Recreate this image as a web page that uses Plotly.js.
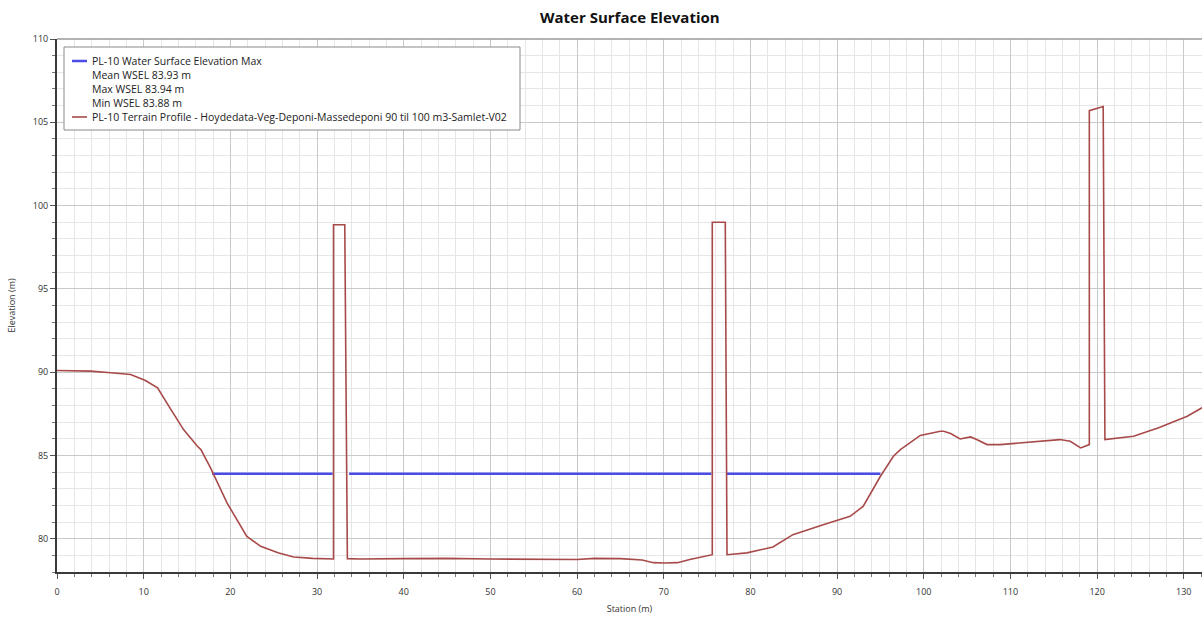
<!DOCTYPE html>
<html>
<head>
<meta charset="utf-8">
<script src="https://cdn.plot.ly/plotly-3.0.1.min.js"></script>
<style>
html,body{margin:0;padding:0;background:#fff;}
#chart{width:1202px;height:622px;}
</style>
</head>
<body>
<div id="chart"></div>
<script>
// Terrain profile (station m, elevation m)
const terrainStation = [0, 3.9, 6.2, 8.5, 10.2, 11.6, 12.9, 14.6, 16.2, 16.6, 17.7, 19.6, 21.9, 23.5, 25.5, 27.3, 29.5, 31.5, 31.9,
  31.9, 33.2, 33.5,
  35, 40, 45, 50, 55, 60, 62, 65, 67.5, 68.8, 70, 71.6, 73, 75.4, 75.6,
  75.6, 77.1, 77.3,
  79.6, 82.6, 84.9, 88.4, 91.5, 93.0, 95.0, 96.5, 97.3, 99.6, 100.0, 101.9, 102.3, 103.1, 104.2, 105.4, 106.1, 107.3, 108.8, 112, 115.7, 116.9, 118.1, 119.1,
  119.1, 120.7, 120.9,
  124.2, 127.1, 130.4, 132.1];
const terrainElev = [90.1, 90.06, 89.96, 89.86, 89.5, 89.06, 87.96, 86.55, 85.55, 85.35, 84.27, 82.16, 80.14, 79.54, 79.15, 78.9, 78.82, 78.78, 78.78,
  98.85, 98.85, 78.8,
  78.78, 78.8, 78.82, 78.78, 78.76, 78.75, 78.82, 78.8, 78.72, 78.56, 78.54, 78.56, 78.75, 79.0, 79.04,
  99.0, 99.0, 79.04,
  79.15, 79.5, 80.24, 80.84, 81.34, 81.94, 83.75, 84.95, 85.35, 86.2, 86.25, 86.45, 86.45, 86.31, 85.99, 86.11, 85.95, 85.65, 85.65, 85.8, 85.95, 85.85, 85.45, 85.65,
  105.7, 105.95, 85.95,
  86.15, 86.66, 87.35, 87.86];

// Water surface elevation max (breaks at the piers)
const wselStation = [17.9, 31.8, null, 33.7, 75.5, null, 77.3, 95.0];
const wselElev = [83.9, 83.9, null, 83.9, 83.9, null, 83.9, 83.9];

const legendWsel = "PL-10 Water Surface Elevation Max";
const legendStats = ["Mean WSEL 83.93 m", "Max WSEL 83.94 m", "Min WSEL 83.88 m"];
const legendTerrain = "PL-10 Terrain Profile - Hoydedata-Veg-Deponi-Massedeponi 90 til 100 m3-Samlet-V02";

const wselColor = '#4b4be6';
const terrainColor = '#a84a4a';

const traces = [
  {x: wselStation, y: wselElev, mode: 'lines', name: legendWsel,
   line: {color: wselColor, width: 2.5}, connectgaps: false, showlegend: false},
  {x: terrainStation, y: terrainElev, mode: 'lines', name: legendTerrain,
   line: {color: terrainColor, width: 1.6}, showlegend: false}
];

// page geometry
const W = 1202, H = 622, M = {l: 57, r: 0, t: 39, b: 50};
const plotW = W - M.l - M.r, plotH = H - M.t - M.b;
const px = v => (v - M.l) / plotW;
const py = v => (H - M.b - v) / plotH;

const FONT = 'Open Sans, DejaVu Sans, sans-serif';

// custom legend (box, line samples and texts)
const legendRows = [legendWsel].concat(legendStats, [legendTerrain]);
const rowY = [61, 75, 89, 103, 117];
const shapes = [
  {type: 'rect', xref: 'paper', yref: 'paper', x0: px(64), x1: px(520), y0: py(130), y1: py(47),
   line: {color: '#8a8a8a', width: 1}, fillcolor: '#ffffff', layer: 'above'},
  {type: 'line', xref: 'paper', yref: 'paper', x0: px(72), x1: px(87), y0: py(rowY[0]), y1: py(rowY[0]),
   line: {color: wselColor, width: 2.5}, layer: 'above'},
  {type: 'line', xref: 'paper', yref: 'paper', x0: px(72), x1: px(87), y0: py(rowY[4]), y1: py(rowY[4]),
   line: {color: terrainColor, width: 1.6}, layer: 'above'},
  {type: 'line', xref: 'paper', yref: 'paper', x0: 0, x1: 1, y0: 1, y1: 1,
   line: {color: '#9a9a9a', width: 1.5}, layer: 'above'}
];
const annotations = legendRows.map((t, i) => ({
  xref: 'paper', yref: 'paper', x: px(90), y: py(rowY[i]), xanchor: 'left', yanchor: 'middle',
  text: t, showarrow: false, font: {family: FONT, size: 10.5, color: '#222'}
}));

const axisCommon = {
  showline: true, linecolor: '#3a3a3a', linewidth: 2,
  ticks: 'outside', ticklen: 5, tickcolor: '#555', tickwidth: 1,
  gridcolor: '#c9c9c9', gridwidth: 1, zeroline: false,
  tickfont: {family: FONT, size: 9, color: '#333'}
};

const layout = {
  width: W, height: H,
  margin: M,
  paper_bgcolor: '#ffffff', plot_bgcolor: '#ffffff',
  title: {text: '<b>Water Surface Elevation</b>', x: 0.524, xanchor: 'center', y: 0.971, yanchor: 'middle',
    font: {family: FONT, size: 15, color: '#111'}},
  showlegend: false,
  shapes: shapes,
  annotations: annotations,
  xaxis: Object.assign({}, axisCommon, {
    range: [0, 132.1], dtick: 10, tick0: 0, ticklabelstandoff: 5,
    minor: {dtick: 2, showgrid: true, gridcolor: '#e6e6e6', ticks: 'outside', ticklen: 3, tickcolor: '#777'},
    title: {text: 'Station (m)', standoff: 9, font: {family: FONT, size: 9, color: '#333'}}
  }),
  yaxis: Object.assign({}, axisCommon, {
    range: [78, 110], dtick: 5, tick0: 0,
    minor: {dtick: 1, showgrid: true, gridcolor: '#e6e6e6', ticks: 'outside', ticklen: 3, tickcolor: '#777'},
    title: {text: 'Elevation (m)', standoff: 16, font: {family: FONT, size: 9, color: '#333'}}
  })
};

Plotly.newPlot('chart', traces, layout, {displayModeBar: false, responsive: false});
</script>
</body>
</html>
